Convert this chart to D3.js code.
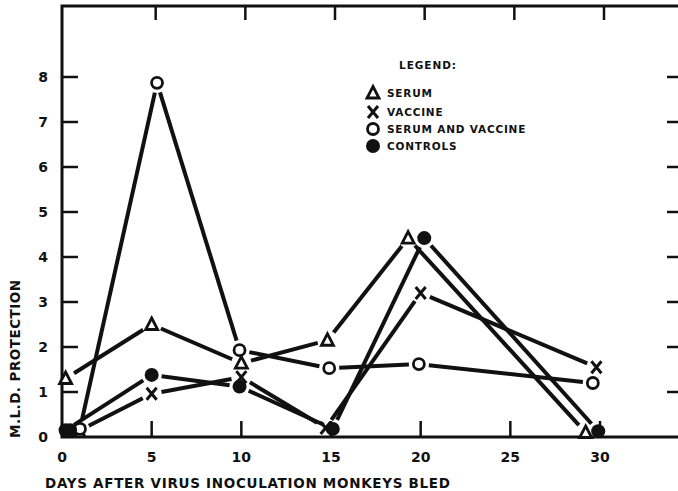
<!DOCTYPE html>
<head>
  <meta charset="utf-8">
  <script src="https://d3js.org/d3.v7.min.js"></script>
  <style>
    body { margin:0; background:#fff; }
    text { font-family:"DejaVu Sans", sans-serif; font-weight:bold; fill:#111; }
  </style>
</head>
<body>
<div id=figure></div>
<script>
// values (day, M.L.D. protection)
var serumDays = [0.2, 5, 10, 14.8, 19.3, 29.2];
var serumVals = [1.3, 2.5, 1.64, 2.15, 4.42, 0.1];
var vaccineDays = [1, 5, 10, 14.7, 20, 29.8];
var vaccineVals = [0.15, 0.96, 1.33, 0.2, 3.2, 1.55];
var bothDays = [1, 5.3, 9.9, 14.9, 19.9, 29.6];
var bothVals = [0.18, 7.87, 1.93, 1.53, 1.62, 1.2];
var controlDays = [0.2, 5, 9.9, 15.1, 20.2, 29.9];
var controlVals = [0.15, 1.38, 1.12, 0.18, 4.42, 0.13];

var xTicks = [0, 5, 10, 15, 20, 25, 30];
var yTicks = [0, 1, 2, 3, 4, 5, 6, 7, 8];
var legendNames = ["SERUM", "VACCINE", "SERUM AND VACCINE", "CONTROLS"];

var series = [
  {name:"SERUM", marker:"triangle", days:serumDays, vals:serumVals},
  {name:"VACCINE", marker:"cross", days:vaccineDays, vals:vaccineVals},
  {name:"CONTROLS", marker:"dot", days:controlDays, vals:controlVals},
  {name:"SERUM AND VACCINE", marker:"ring", days:bothDays, vals:bothVals}
];
var markerOf = {"SERUM":"triangle", "VACCINE":"cross", "SERUM AND VACCINE":"ring", "CONTROLS":"dot"};

var W = 678, H = 491, ink = "#111";
var svg = d3.select("#figure").append("svg").attr("width", W).attr("height", H);

var x = d3.scaleLinear().domain([0, 30]).range([62, 600]);
var y = d3.scaleLinear().domain([0, 8]).range([437, 77]);

// frame: left axis, bottom axis, top border
svg.append("path")
  .attr("d", "M" + W + ",6H62V437H" + W)
  .attr("fill", "none").attr("stroke", ink).attr("stroke-width", 3);

// left ticks (inward) and right-side ticks
yTicks.slice(1).forEach(function(v) {
  svg.append("line").attr("x1", 62).attr("x2", 78).attr("y1", y(v)).attr("y2", y(v))
    .attr("stroke", ink).attr("stroke-width", 2.5);
  svg.append("line").attr("x1", 667).attr("x2", W).attr("y1", y(v)).attr("y2", y(v))
    .attr("stroke", ink).attr("stroke-width", 2.5);
});
yTicks.forEach(function(v) {
  svg.append("text").attr("x", 43).attr("y", y(v) + 5)
    .attr("text-anchor", "middle").attr("font-size", 14).text(v);
});

// top ticks (down) and bottom ticks (up)
xTicks.slice(1).forEach(function(d) {
  svg.append("line").attr("x1", x(d) + 4).attr("x2", x(d) + 4).attr("y1", 6).attr("y2", 20)
    .attr("stroke", ink).attr("stroke-width", 2.5);
  svg.append("line").attr("x1", x(d)).attr("x2", x(d)).attr("y1", 437).attr("y2", 421)
    .attr("stroke", ink).attr("stroke-width", 2.5);
});
xTicks.forEach(function(d) {
  svg.append("text").attr("x", x(d)).attr("y", 462)
    .attr("text-anchor", "middle").attr("font-size", 14).text(d);
});

// axis titles
svg.append("text").attr("x", 45).attr("y", 488).attr("font-size", 13.5)
  .attr("textLength", 405).attr("lengthAdjust", "spacing")
  .text("DAYS  AFTER  VIRUS  INOCULATION  MONKEYS  BLED");
svg.append("text").attr("transform", "translate(20,438) rotate(-90)")
  .attr("font-size", 13.5).attr("textLength", 158).attr("lengthAdjust", "spacing")
  .text("M.L.D.   PROTECTION");

// marker drawing
function drawMarker(g, type, cx, cy) {
  if (type == "triangle") {
    g.append("path").attr("d", "M" + cx + "," + (cy - 6.5) + "L" + (cx + 6) + "," + (cy + 5) + "L" + (cx - 6) + "," + (cy + 5) + "Z")
      .attr("fill", "#fff").attr("stroke", ink).attr("stroke-width", 2.8).attr("stroke-linejoin", "miter");
  } else if (type == "cross") {
    g.append("path").attr("d", "M" + (cx - 5) + "," + (cy - 6) + "L" + (cx + 5) + "," + (cy + 6) + "M" + (cx + 5) + "," + (cy - 6) + "L" + (cx - 5) + "," + (cy + 6))
      .attr("stroke", ink).attr("stroke-width", 3);
  } else if (type == "ring") {
    g.append("circle").attr("cx", cx).attr("cy", cy).attr("r", 5.5)
      .attr("fill", "#fff").attr("stroke", ink).attr("stroke-width", 2.8);
  } else {
    g.append("circle").attr("cx", cx).attr("cy", cy).attr("r", 7).attr("fill", ink);
  }
}

// lines, trimmed short of each marker like the hand-drawn original
var gap = 10;
var lines = svg.append("g");
series.forEach(function(s) {
  for (var i = 0; i < s.days.length - 1; i++) {
    var x1 = x(s.days[i]), y1 = y(s.vals[i]), x2 = x(s.days[i + 1]), y2 = y(s.vals[i + 1]);
    var len = Math.hypot(x2 - x1, y2 - y1), ux = (x2 - x1) / len, uy = (y2 - y1) / len;
    lines.append("line")
      .attr("x1", x1 + ux * gap).attr("y1", y1 + uy * gap)
      .attr("x2", x2 - ux * gap).attr("y2", y2 - uy * gap)
      .attr("stroke", ink).attr("stroke-width", 4);
  }
});

var marks = svg.append("g");
series.forEach(function(s) {
  s.days.forEach(function(d, i) { drawMarker(marks, s.marker, x(d), y(s.vals[i])); });
});
// second control dot at day 0
drawMarker(marks, "dot", x(0.45), y(0.15));

// legend
svg.append("text").attr("x", 399).attr("y", 69).attr("font-size", 10.5)
  .attr("textLength", 57).attr("lengthAdjust", "spacing").text("LEGEND:");
var rowY = [93, 112, 129, 146];
legendNames.forEach(function(n, i) {
  drawMarker(svg, markerOf[n], 373, rowY[i]);
  svg.append("text").attr("x", 387).attr("y", rowY[i] + 4).attr("font-size", 10.5)
    .attr("letter-spacing", 0.8).text(n);
});
</script>
</body>
